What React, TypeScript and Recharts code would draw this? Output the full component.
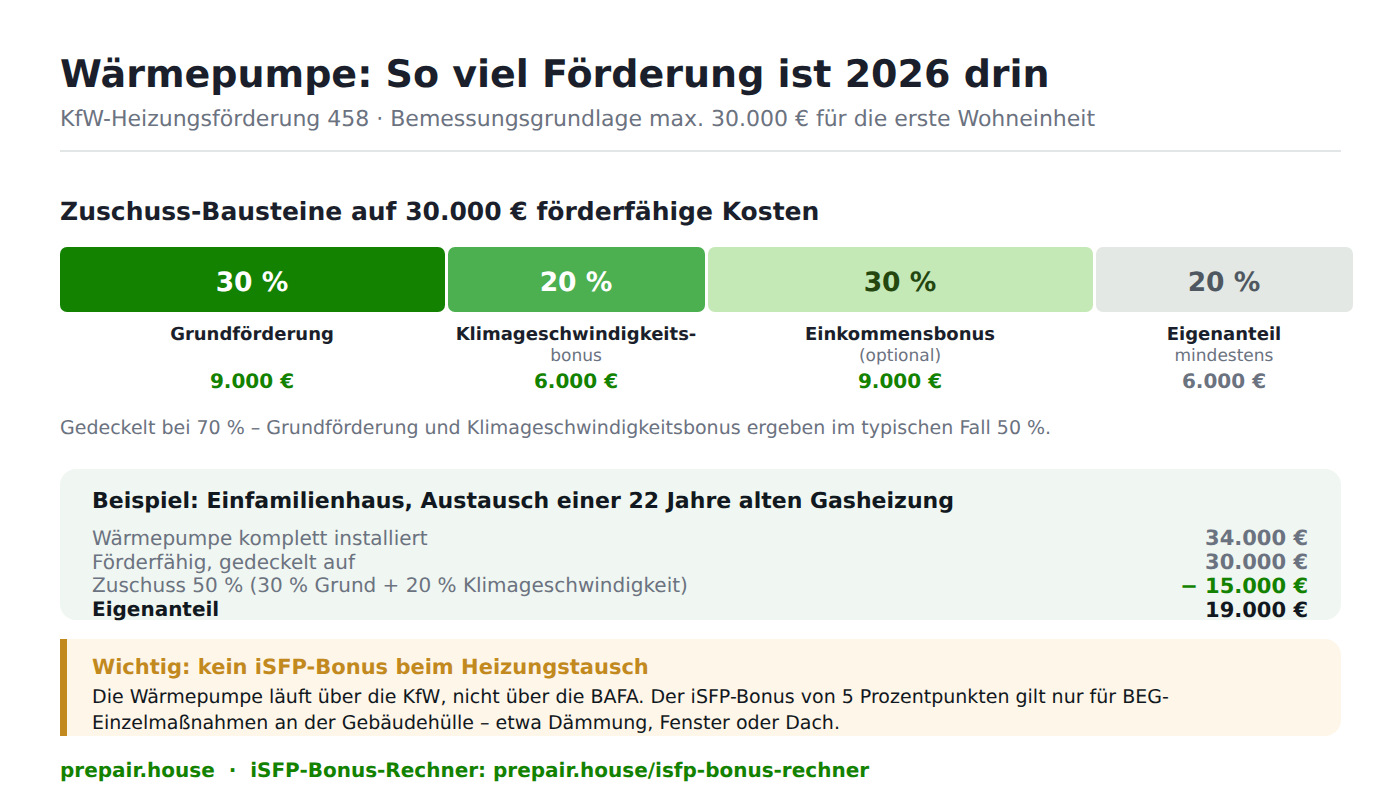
import React from 'react';
import { BarChart, Bar, XAxis, YAxis, Rectangle } from 'recharts';

const FONT = '"DejaVu Sans", sans-serif';
const shares = [30, 20, 30, 20];
const shareKeys = ['grund', 'klima', 'einkommen', 'eigen'];
const segmentNames = ['Grundförderung', 'Klimageschwindigkeits-', 'Einkommensbonus', 'Eigenanteil'];
const segmentNotes = ['', 'bonus', '(optional)', 'mindestens'];
const segmentAmounts = ['9.000 €', '6.000 €', '9.000 €', '6.000 €'];
const segmentFills = ['#138200', '#4caf50', '#c5e8b7', '#e3e8e4'];
const percentColors = ['#ffffff', '#ffffff', '#24470f', '#4f5860'];
const amountColors = ['#138200', '#138200', '#138200', '#6b7280'];
const exampleLabels = ['Wärmepumpe komplett installiert', 'Förderfähig, gedeckelt auf', 'Zuschuss 50 % (30 % Grund + 20 % Klimageschwindigkeit)', 'Eigenanteil'];
const exampleValues = ['34.000 €', '30.000 €', '− 15.000 €', '19.000 €'];

const row: Record<string, string | number> = { name: 'Zuschuss' };
shareKeys.forEach((k, i) => { row[k] = shares[i]; });
const chartData = [row];

function Segment(props: any) {
  const { x, y, width, height } = props;
  const i = props.segIndex as number;
  const x0 = Math.floor(x);
  const x1 = Math.floor(x + width - 3);
  const cx = (x0 + x1) / 2 - 0.5;
  return (
    <g textRendering="geometricPrecision">
      <Rectangle x={x0} y={y} width={x1 - x0} height={height} radius={7} fill={segmentFills[i]} />
      <text x={cx} y={y + 44} textAnchor="middle" fontSize={26.5} fontWeight={700} fill={percentColors[i]} fontFamily={FONT}>{shares[i]} %</text>
      <text x={cx} y={y + 92.5} textAnchor="middle" fontSize={18} fontWeight={700} fill="#1a1f2b" fontFamily={FONT}>{segmentNames[i]}</text>
      <text x={cx} y={y + 114} textAnchor="middle" fontSize={17} fill="#6b7280" fontFamily={FONT}>{segmentNotes[i]}</text>
      <text x={cx} y={y + 141} textAnchor="middle" fontSize={20} fontWeight={700} fill={amountColors[i]} fontFamily={FONT}>{segmentAmounts[i]}</text>
    </g>
  );
}

export default function App() {
  return (
    <div style={{ position: 'absolute', left: 0, top: 0, width: 1400, height: 800, background: '#fff', overflow: 'hidden' }}>
      <svg width={1400} height={800} style={{ position: 'absolute', left: 0, top: 0 }} fontFamily={FONT} textRendering="geometricPrecision">
        <text x={60} y={86.5} fontSize={38} fontWeight={700} fill="#1a1f2b">Wärmepumpe: So viel Förderung ist 2026 drin</text>
        <text x={60} y={126} fontSize={22} fill="#6b7280">KfW-Heizungsförderung 458 · Bemessungsgrundlage max. 30.000 € für die erste Wohneinheit</text>
        <rect x={60} y={150} width={1281} height={2} fill="#e3e6e7" />
        <text x={60} y={219.5} fontSize={25} fontWeight={700} fill="#1a1f2b">Zuschuss-Bausteine auf 30.000 € förderfähige Kosten</text>
        <text x={60} y={433.5} fontSize={19} fill="#6b7280">Gedeckelt bei 70 % – Grundförderung und Klimageschwindigkeitsbonus ergeben im typischen Fall 50 %.</text>

        <rect x={60} y={469} width={1281} height={151} rx={16} fill="#f0f6f1" />
        <text x={92} y={508} fontSize={22} fontWeight={700} fill="#111820">Beispiel: Einfamilienhaus, Austausch einer 22 Jahre alten Gasheizung</text>
        {exampleLabels.map((t, i) => (
          <text key={t} x={92} y={[544.5, 568.5, 592, 616][i]} fontSize={20} fontWeight={i === 3 ? 700 : 400} fill={i === 3 ? '#111820' : '#6b7280'}>{t}</text>
        ))}
        {exampleValues.map((t, i) => (
          <text key={t} x={1308} y={[545, 569, 593, 617][i]} textAnchor="end" fontSize={21} fontWeight={700} fill={i === 3 ? '#111820' : i === 2 ? '#138200' : '#6b7280'}>{t}</text>
        ))}

        <rect x={60} y={639} width={1281} height={97} rx={16} fill="#fff6ea" />
        <rect x={60} y={639} width={20} height={97} fill="#fff6ea" />
        <rect x={60} y={639} width={7} height={97} fill="#c28a1e" />
        <text x={92} y={673.5} fontSize={21} fontWeight={700} fill="#c28a1e">Wichtig: kein iSFP-Bonus beim Heizungstausch</text>
        <text x={92} y={703} fontSize={19} fill="#111820">Die Wärmepumpe läuft über die KfW, nicht über die BAFA. Der iSFP-Bonus von 5 Prozentpunkten gilt nur für BEG-</text>
        <text x={92} y={729} fontSize={19} fill="#111820">Einzelmaßnahmen an der Gebäudehülle – etwa Dämmung, Fenster oder Dach.</text>
        <text x={60} y={777} fontSize={20} fontWeight={700} fill="#138200" xmlSpace="preserve">prepair.house  ·  iSFP-Bonus-Rechner: prepair.house/isfp-bonus-rechner</text>
      </svg>
      <div style={{ position: 'absolute', left: 0, top: 0 }}>
        <BarChart
          width={1400}
          height={420}
          data={chartData}
          layout="vertical"
          margin={{ top: 247, bottom: 108, left: 60, right: 44 }}
          barCategoryGap={0}
          style={{ overflow: 'visible' }}
        >
          <XAxis type="number" domain={[0, 100]} hide />
          <YAxis type="category" dataKey="name" hide />
          {shareKeys.map((k, i) => (
            <Bar key={k} dataKey={k} stackId="a" isAnimationActive={false} shape={(p: any) => <Segment {...p} segIndex={i} />} />
          ))}
        </BarChart>
      </div>
    </div>
  );
}
